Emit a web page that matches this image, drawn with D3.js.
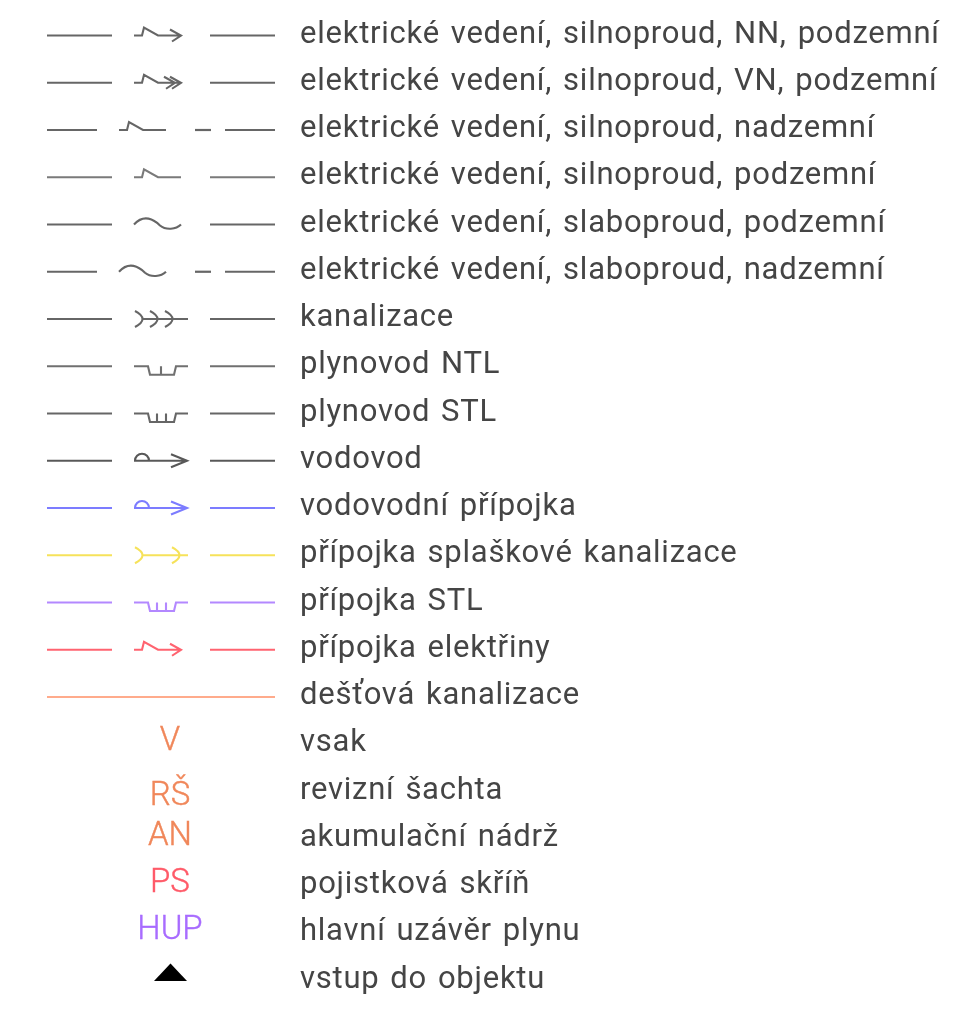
<!DOCTYPE html>
<html>
<head>
<meta charset="utf-8">
<script src="https://d3js.org/d3.v7.min.js"></script>
<style>
    html, body { margin: 0; background: #fff; }
    text { font-family: Roboto, sans-serif; }
</style>
</head>
<body>
<div id="legend"></div>
<script>
// legend labels, top to bottom
var labels = [
    'elektrické vedení, silnoproud, NN, podzemní',
    'elektrické vedení, silnoproud, VN, podzemní',
    'elektrické vedení, silnoproud, nadzemní',
    'elektrické vedení, silnoproud, podzemní',
    'elektrické vedení, slaboproud, podzemní',
    'elektrické vedení, slaboproud, nadzemní',
    'kanalizace',
    'plynovod NTL',
    'plynovod STL',
    'vodovod',
    'vodovodní přípojka',
    'přípojka splaškové kanalizace',
    'přípojka STL',
    'přípojka elektřiny',
    'dešťová kanalizace',
    'vsak',
    'revizní šachta',
    'akumulační nádrž',
    'pojistková skříň',
    'hlavní uzávěr plynu',
    'vstup do objektu'
];
var symbols = ['bolt1', 'bolt2', 'bolt', 'bolt', 'wave', 'wave', 'sewer3', 'gas1', 'gas2', 'water', 'water', 'sewer2', 'gas2', 'bolt1', 'full',
    'V', 'RŠ', 'AN', 'PS', 'HUP', 'tri'];
var kinds = ['solid', 'solid', 'dash', 'solid', 'solid', 'dash', 'solid', 'solid', 'solid', 'solid', 'solid', 'solid', 'solid', 'solid', 'solid',
    '', '', '', '', '', ''];
var colors = ['#666666', '#666666', '#666666', '#7a7a7a', '#666666', '#666666', '#666666', '#707070', '#666666', '#585858',
    '#7c7cff', '#f6e25a', '#b388ff', '#ff6470', '#ffab8c',
    '#f0875a', '#f0875a', '#f0875a', '#ff5a68', '#a86cff', '#000000'];

var width = 975, height = 1009;

var y = d3.scalePoint().domain(d3.range(labels.length)).range([35.5, 980.5]);

var svg = d3.select('#legend').append('svg')
    .attr('width', width)
    .attr('height', height)
    .style('display', 'block');

var defs = svg.append('defs');
defs.append('filter').attr('id', 'soft')
    .append('feGaussianBlur').attr('stdDeviation', 0.6);

var pathLine = d3.line();

function arrow(x) {
    return pathLine([[x - 11, -6], [x, 0], [x - 9, 6]]);
}
function curve(x) {
    return 'M' + (x - 8) + ',-8Q' + (x + 7) + ',0 ' + (x - 8) + ',8';
}
function gas(end, ticks) {
    var d = pathLine([[0, 0], [14, 0], [16, 8.5], [40, 8.5], [42, 0], [end, 0]]);
    ticks.forEach(function (t) { d += 'M' + t + ',0V8.5'; });
    return d;
}

// glyphs are drawn relative to their own start on the row
var glyphs = {
    bolt: pathLine([[0, 0], [8, 0], [10, -8], [24, 0], [47, 0]]),
    bolt1: pathLine([[0, 0], [8, 0], [10, -8], [24, 0], [47, 0]]) + arrow(47),
    bolt2: pathLine([[0, 0], [8, 0], [10, -8], [24, 0], [47, 0]]) + arrow(41) + arrow(47),
    wave: 'M0,0C10,-11 20,-5 26,1C32,6 42,5 47,0',
    sewer3: curve(9) + curve(24) + curve(39) + 'M9,0H54',
    sewer2: curve(9) + curve(46) + 'M9,0H54',
    gas1: gas(54, [27]),
    gas2: gas(54, [23, 32]),
    water: 'M1,0A7,7 0 0 1 15,0M0,0H53' + pathLine([[37, -6.5], [53, 0], [37, 6.5]])
};

var rows = svg.append('g').attr('filter', 'url(#soft)')
    .selectAll('g')
    .data(labels)
    .enter()
    .append('g')
    .attr('transform', function (d, i) { return 'translate(0,' + y(i) + ')'; });

rows.append('text')
    .attr('x', 300)
    .attr('dy', 7)
    .attr('fill', '#444')
    .attr('font-size', 31)
    .attr('letter-spacing', 0.75)
    .attr('word-spacing', 2.5)
    .text(function (d) { return d; });

rows.each(function (d, i) {
    var row = d3.select(this),
        sym = symbols[i],
        kind = kinds[i],
        color = colors[i];

    if (sym == 'tri') {
        row.append('path')
            .attr('d', 'M154,0.5L170.5,-17L187,0.5Z')
            .attr('fill', color);
        return;
    }
    if (!kind) {
        // RŠ sits lower than the rest in the original
        row.append('text')
            .attr('x', 170)
            .attr('dy', sym == 'RŠ' ? 13 : 6)
            .attr('text-anchor', 'middle')
            .attr('fill', color)
            .attr('stroke', color)
            .attr('stroke-width', 0.4)
            .attr('font-size', 33)
            .attr('font-weight', 300)
            .text(sym);
        return;
    }

    var segs, start = 134;
    if (sym == 'full') {
        segs = [[47, 275]];
    } else if (kind == 'dash') {
        segs = [[47, 97], [195, 211], [225, 275]];
        start = 119;
    } else {
        segs = [[47, 112], [210, 275]];
    }

    row.selectAll('line')
        .data(segs)
        .enter()
        .append('line')
        .attr('x1', function (s) { return s[0]; })
        .attr('x2', function (s) { return s[1]; })
        .attr('stroke', color)
        .attr('stroke-width', 2.2);

    if (glyphs[sym]) {
        row.append('path')
            .attr('d', glyphs[sym])
            .attr('transform', 'translate(' + start + ',0)')
            .attr('fill', 'none')
            .attr('stroke', color)
            .attr('stroke-width', 2.1);
    }
});
</script>
</body>
</html>
